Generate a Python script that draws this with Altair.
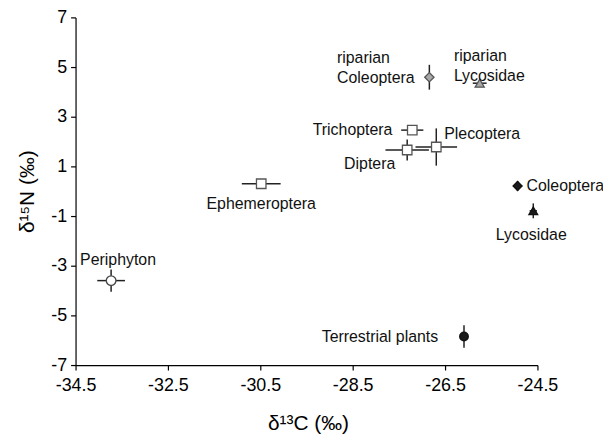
import altair as alt
import pandas as pd

names = ["Periphyton", "Ephemeroptera", "Diptera", "Trichoptera", "Plecoptera",
         "riparian Coleoptera", "riparian Lycosidae", "Coleoptera", "Lycosidae",
         "Terrestrial plants"]
d13c = [-33.73, -30.48, -27.32, -27.21, -26.69, -26.84, -25.75, -24.93, -24.59, -26.09]
d15n = [-3.6, 0.3, 1.66, 2.46, 1.78, 4.59, 4.35, 0.21, -0.79, -5.85]
c_err = [0.3, 0.42, 0.47, 0.24, 0.45, 0.0, 0.15, 0.1, 0.08, 0.0]
n_err = [0.45, 0.0, 0.42, 0.0, 0.75, 0.5, 0.15, 0.2, 0.3, 0.45]
groups = ["open circle", "open square", "open square", "open square", "open square",
          "grey diamond", "grey triangle", "black diamond", "black triangle", "black circle"]

df = pd.DataFrame({"name": names, "x": d13c, "y": d15n, "xe": c_err, "ye": n_err, "g": groups})
df["xlo"] = df.x - df.xe
df["xhi"] = df.x + df.xe
df["ylo"] = df.y - df.ye
df["yhi"] = df.y + df.ye

xs = alt.Scale(domain=[-34.5, -24.5], nice=False, zero=False)
ys = alt.Scale(domain=[-7, 7], nice=False, zero=False)

base = alt.Chart(df)

minus_fix = "replace(datum.label, '\u2212', '-')"
xaxis = alt.Axis(values=[-34.5, -32.5, -30.5, -28.5, -26.5, -24.5], format=".1f",
                 labelExpr=minus_fix, labelFlush=False, labelOverlap=False,
                 title="δ¹³C (‰)", titleX=234, titleY=59, titleBaseline="middle",
                 titleAlign="center")
yaxis = alt.Axis(values=[-7, -5, -3, -1, 1, 3, 5, 7], format="d", labelExpr=minus_fix,
                 labelFlush=False, labelOverlap=False,
                 title="δ¹⁵N (‰)", titleX=-48, titleY=175, titleAngle=270,
                 titleBaseline="middle", titleAlign="center")

hbar = base.transform_filter("datum.xe > 0").mark_rule(color="#222", strokeWidth=1.5).encode(
    x=alt.X("xlo:Q", scale=xs, axis=xaxis), x2="xhi:Q",
    y=alt.Y("y:Q", scale=ys, axis=yaxis))
vbar = base.transform_filter("datum.ye > 0").mark_rule(color="#222", strokeWidth=1.5).encode(
    x=alt.X("x:Q", scale=xs), y=alt.Y("ylo:Q", scale=ys), y2="yhi:Q")

gdom = ["open circle", "open square", "grey diamond", "grey triangle",
        "black diamond", "black triangle", "black circle"]
pts = base.mark_point(filled=True, strokeWidth=1.3, opacity=1).encode(
    x=alt.X("x:Q", scale=xs), y=alt.Y("y:Q", scale=ys),
    shape=alt.Shape("g:N", legend=None, scale=alt.Scale(
        domain=gdom, range=["circle", "square", "diamond", "triangle-up",
                            "diamond", "triangle-up", "circle"])),
    fill=alt.Fill("g:N", legend=None, scale=alt.Scale(
        domain=gdom, range=["white", "white", "#a8a8a8", "#a8a8a8",
                            "#1a1a1a", "#1a1a1a", "#1a1a1a"])),
    stroke=alt.Stroke("g:N", legend=None, scale=alt.Scale(
        domain=gdom, range=["#444", "#555", "#555", "#555", "#111", "#111", "#111"])),
    size=alt.Size("g:N", legend=None, scale=alt.Scale(
        domain=gdom, range=[95, 75, 150, 80, 120, 100, 85])),
)

label_cfg = {
    "Periphyton": dict(align="center", dx=7, dy=-21),
    "Ephemeroptera": dict(align="center", dx=0, dy=20),
    "Diptera": dict(align="right", dx=-12, dy=14),
    "Trichoptera": dict(align="right", dx=-20, dy=0),
    "Plecoptera": dict(align="left", dx=8, dy=-13),
    "riparian Coleoptera": dict(align="left", dx=-93, dy=-19),
    "riparian Lycosidae": dict(align="left", dx=-26, dy=-27),
    "Coleoptera": dict(align="left", dx=9, dy=0),
    "Lycosidae": dict(align="center", dx=-2, dy=24),
    "Terrestrial plants": dict(align="right", dx=-26, dy=1),
}
texts = []
for nm, cfg in label_cfg.items():
    t = base.transform_filter(alt.datum.name == nm).transform_calculate(
        lab="replace(datum.name, 'riparian ', 'riparian\\n')"
    ).mark_text(font="Liberation Sans", fontSize=16, color="#111", baseline="middle",
                lineBreak="\n", lineHeight=20, **cfg).encode(
        x=alt.X("x:Q", scale=xs), y=alt.Y("y:Q", scale=ys), text="lab:N")
    texts.append(t)

chart = alt.layer(hbar, vbar, pts, *texts).properties(
    width=465, height=350,
    autosize=alt.AutoSizeParams(type="none"),
    padding={"left": 68, "top": 8, "right": 66, "bottom": 72},
).configure_view(stroke=None).configure_axis(
    grid=False, domainColor="#000", domainWidth=1.2, tickColor="#000", tickSize=5,
    tickWidth=1.2, labelFont="Liberation Sans", labelFontSize=18, labelColor="#000",
    titleFont="Liberation Sans", titleFontSize=21, titleFontWeight="normal",
    titleColor="#000", labelPadding=4
).configure_axisX(labelPadding=7)

chart.save("out.html", embed_options={"renderer": "svg", "actions": False})
